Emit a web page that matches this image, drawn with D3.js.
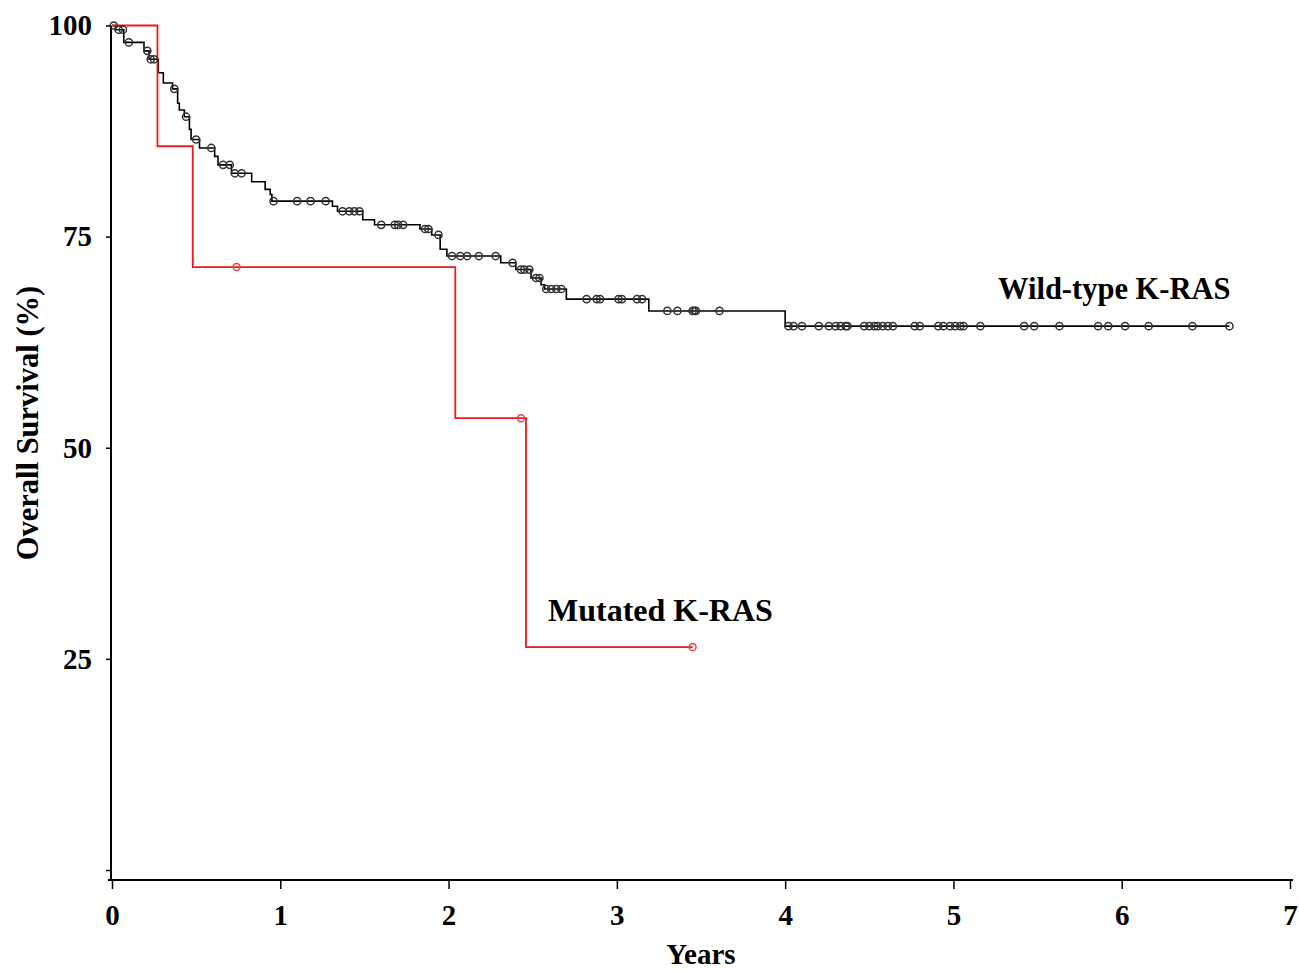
<!DOCTYPE html>
<html>
<head>
<meta charset="utf-8">
<script src="https://cdn.jsdelivr.net/npm/d3@7"></script>
<style>
body { margin: 0; background: #fff; }
text { font-family: "Liberation Serif", "Times New Roman", serif; font-weight: bold; fill: #000; }
</style>
</head>
<body>
<div id="chart"></div>
<script>
// Wild-type K-RAS: time of each drop (years) and survival (%) after it
const wtTimes = [0.02, 0.07, 0.19, 0.22, 0.275, 0.305, 0.36, 0.39, 0.40, 0.43, 0.46, 0.47, 0.52, 0.61, 0.63, 0.71, 0.83, 0.91, 0.94, 0.95,
  1.31, 1.34, 1.49, 1.56, 1.83, 1.90, 1.95, 1.99, 2.31, 2.40, 2.49, 2.55, 2.57, 2.70, 3.19, 4.00]
const wtSurv = [99.5, 98.0, 97.0, 96.0, 94.4, 93.2, 92.5, 90.8, 90.0, 89.2, 87.7, 86.5, 85.5, 84.5, 83.5, 82.5, 81.5, 80.6, 80.0, 79.2,
  78.6, 78.0, 77.0, 76.4, 75.9, 75.2, 73.5, 72.7, 71.9, 71.1, 70.1, 69.3, 68.8, 67.6, 66.2, 64.4]
// censored patients (years)
const wtCensor = [0.01, 0.04, 0.065, 0.10, 0.21, 0.23, 0.25, 0.37, 0.44, 0.50, 0.59, 0.66, 0.70, 0.73, 0.77,
  0.96, 1.10, 1.18, 1.27, 1.37, 1.41, 1.44, 1.47, 1.60, 1.68, 1.70, 1.73, 1.86, 1.88, 1.94, 2.02, 2.07, 2.11, 2.18, 2.28,
  2.38, 2.43, 2.45, 2.48, 2.52, 2.54, 2.58, 2.61, 2.64, 2.67, 2.82, 2.88, 2.90, 3.01, 3.03, 3.12, 3.15,
  3.30, 3.36, 3.45, 3.46, 3.47, 3.61, 4.02, 4.05, 4.10, 4.20, 4.26, 4.30, 4.33, 4.36, 4.37, 4.47, 4.50, 4.53,
  4.55, 4.58, 4.61, 4.64, 4.77, 4.80, 4.91, 4.94, 4.98, 5.01, 5.04, 5.06, 5.16, 5.42, 5.48, 5.63, 5.86, 5.92,
  6.02, 6.16, 6.42, 6.64]
const wtEnd = 6.64

// Mutated K-RAS
const mutTimes = [0.27, 0.48, 2.04, 2.46]
const mutSurv = [85.7, 71.4, 53.5, 26.4]
const mutCensor = [0.74, 2.43, 3.45]
const mutEnd = 3.45

const xTicks = [0, 1, 2, 3, 4, 5, 6, 7]
const yTicks = [0, 25, 50, 75, 100]

const W = 1299, H = 970
const AXIS_Y = 880

const svg = d3.select("#chart").append("svg")
  .attr("width", W)
  .attr("height", H)

// scales
const x = d3.scaleLinear().domain([0, 7]).range([112, 1290])
const y = d3.scaleLinear().domain([0, 100]).range([870, 25.5])

// survival value at time t
function survAt(times, surv, t) {
  let s = 100
  times.forEach((ti, i) => { if (ti <= t) s = surv[i] })
  return s
}

function stepPoints(times, surv, end) {
  const pts = [[0, 100]]
  times.forEach((t, i) => pts.push([t, surv[i]]))
  pts.push([end, surv[surv.length - 1]])
  return pts
}

const line = d3.line()
  .x(d => x(d[0]))
  .y(d => y(d[1]))
  .curve(d3.curveStepAfter)

// axes
const yAxis = svg.append("g")
  .attr("transform", `translate(${x(0) - 1}, 0)`)
  .call(d3.axisLeft(y).tickValues(yTicks).tickSize(5).tickPadding(14).tickSizeOuter(0)
    .tickFormat(d => d === 0 ? "" : d))
yAxis.select(".domain").attr("d", `M0,${y(100)}V${AXIS_Y}`).attr("stroke-width", 2)
yAxis.selectAll(".tick line").attr("stroke-width", 1.5)
yAxis.selectAll(".tick text").attr("font-size", 29).attr("font-family", null)

const xAxis = svg.append("g")
  .attr("transform", `translate(0, ${AXIS_Y})`)
  .call(d3.axisBottom(x).tickValues(xTicks).tickFormat(d3.format("d"))
    .tickSize(9).tickPadding(15).tickSizeOuter(0))
xAxis.select(".domain").attr("d", `M${x(0) - 4},0H${x(7) + 3}`).attr("stroke-width", 2)
xAxis.selectAll(".tick line").attr("stroke-width", 1.5)
xAxis.selectAll(".tick text").attr("font-size", 29).attr("font-family", null)

// axis titles
svg.append("text")
  .attr("x", 701)
  .attr("y", 964)
  .attr("text-anchor", "middle")
  .attr("font-size", 29)
  .text("Years")

svg.append("text")
  .attr("transform", "translate(38, 423) rotate(-90)")
  .attr("text-anchor", "middle")
  .attr("font-size", 30.5)
  .text("Overall Survival (%)")

// curves
svg.append("path")
  .attr("fill", "none")
  .attr("stroke", "#000")
  .attr("stroke-width", 1.6)
  .attr("d", line(stepPoints(wtTimes, wtSurv, wtEnd)))

svg.append("path")
  .attr("fill", "none")
  .attr("stroke", "#f01818")
  .attr("stroke-width", 1.8)
  .attr("d", line(stepPoints(mutTimes, mutSurv, mutEnd)))

// censor marks
svg.append("g").selectAll("circle")
  .data(wtCensor)
  .join("circle")
  .attr("cx", d => x(d))
  .attr("cy", d => y(survAt(wtTimes, wtSurv, d)))
  .attr("r", 3.6)
  .attr("fill", "none")
  .attr("stroke", "#333")
  .attr("stroke-width", 1.5)

svg.append("g").selectAll("circle")
  .data(mutCensor)
  .join("circle")
  .attr("cx", d => x(d))
  .attr("cy", d => y(survAt(mutTimes, mutSurv, d)))
  .attr("r", 3.5)
  .attr("fill", "none")
  .attr("stroke", "#f04040")
  .attr("stroke-width", 1.4)

// curve labels
svg.append("text")
  .attr("x", 998)
  .attr("y", 299)
  .attr("font-size", 30.5)
  .text("Wild-type K-RAS")

svg.append("text")
  .attr("x", 548)
  .attr("y", 621)
  .attr("font-size", 32)
  .text("Mutated K-RAS")
</script>
</body>
</html>
